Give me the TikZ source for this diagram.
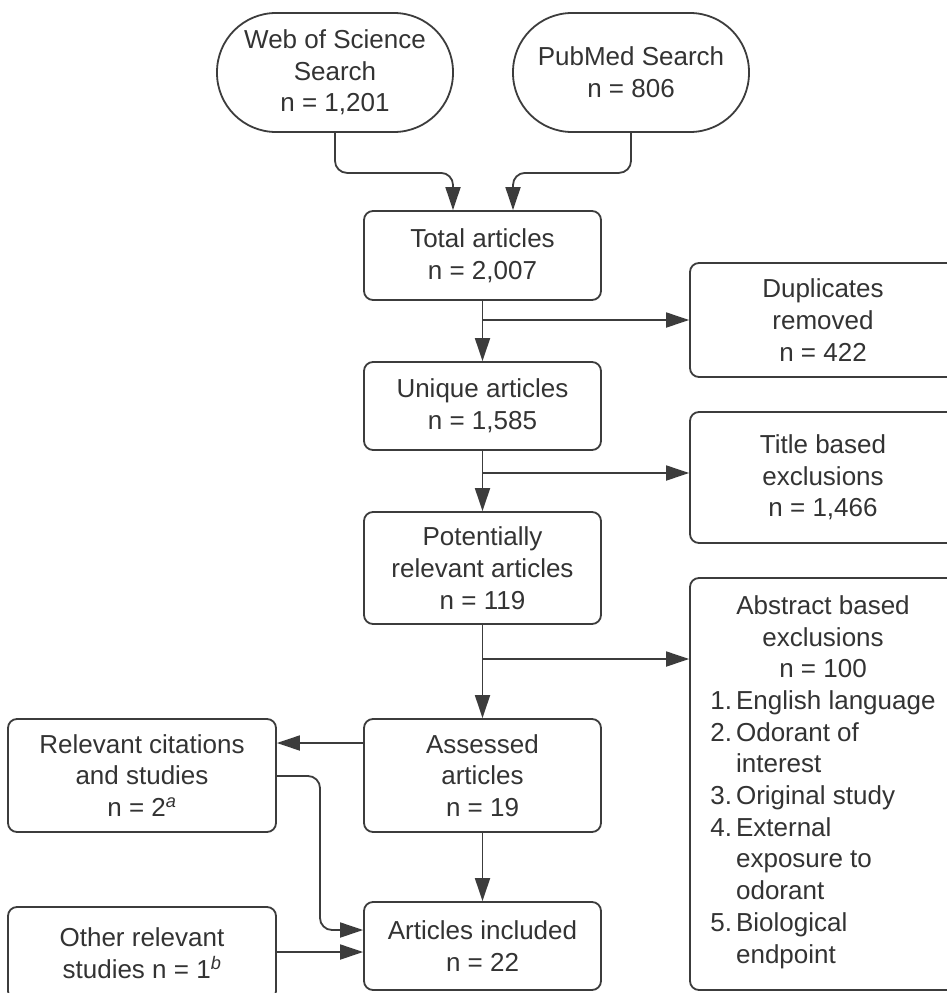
\documentclass[tikz,border=0pt]{standalone}
\usepackage{fontspec}
\setmainfont{Liberation Sans}
\usetikzlibrary{arrows.meta}
\definecolor{linec}{HTML}{3C3C3C}
\definecolor{textc}{HTML}{333333}
\tikzset{
  box/.style={draw=linec, line width=1.8pt, rounded corners=9pt, align=center,
    inner sep=0pt, text=textc, font=\fontsize{26pt}{31.7pt}\selectfont},
  stadium/.style={box, rounded corners=59pt},
  arr/.style={draw=linec, line width=1.8pt, -{Triangle[length=23pt,width=15pt]}},
  conn/.style={arr, rounded corners=12pt}
}
\begin{document}
\begin{tikzpicture}[x=1pt,y=-1pt]
\useasboundingbox (0,0) rectangle (947,993);
\fill[white] (0,0) rectangle (947,993);
\clip (0,0) rectangle (947,993);

\node[stadium, minimum width=236pt, minimum height=119pt] (wos) at (335,72.5) {Web of Science\\Search\\n = 1,201};
\node[stadium, minimum width=236pt, minimum height=119pt] (pub) at (631,72.5) {PubMed Search\\n = 806};
\node[box, minimum width=237pt, minimum height=89pt] (total) at (482.5,255.5) {Total articles\\n = 2,007};
\node[box, minimum width=266pt, minimum height=114pt] (dup) at (823,320) {Duplicates\\removed\\n = 422};
\node[box, minimum width=237pt, minimum height=88pt] (uniq) at (482.5,406) {Unique articles\\n = 1,585};
\node[box, minimum width=266pt, minimum height=131pt] (title) at (823,477.5) {Title based\\exclusions\\n = 1,466};
\node[box, minimum width=237pt, minimum height=112pt] (pot) at (482.5,568) {Potentially\\relevant articles\\n = 119};
\node[box, minimum width=266pt, minimum height=412pt] (abs) at (823,784) {Abstract based\\exclusions\\n = 100\\
\begin{tabular}[t]{@{}l@{\hspace{4pt}}l@{}}
1. & English language\\
2. & Odorant of\\
   & interest\\
3. & Original study\\
4. & External\\
   & exposure to\\
   & odorant\\
5. & Biological\\
   & endpoint
\end{tabular}};
\node[box, minimum width=237pt, minimum height=113pt] (ass) at (482.5,775.5) {Assessed\\articles\\n = 19};
\node[box, minimum width=268pt, minimum height=113pt] (rel) at (142,775.5) {Relevant citations\\and studies\\n = 2\textsuperscript{\itshape a}};
\node[box, minimum width=237pt, minimum height=88pt] (inc) at (482.5,946) {Articles included\\n = 22};
\node[box, minimum width=268pt, minimum height=93pt] (oth) at (142,953.5) {Other relevant\\studies n = 1\textsuperscript{\itshape b}};

\coordinate (b3) at (482.5,659);
\coordinate (c1) at (320,930);

\draw[conn] (wos.south) -- ++(0,40) -| ([xshift=-29.5pt]total.north);
\draw[conn] (pub.south) -- ++(0,40) -| ([xshift=30.5pt]total.north);
\draw[arr] (total.south) -- (uniq.north);
\draw[arr] (total.south |- dup.west) -- (dup.west);
\draw[arr] (uniq.south) -- (pot.north);
\draw[arr] ([yshift=4.5pt]title.west -| uniq.south) -- ([yshift=4.5pt]title.west);
\draw[arr] (pot.south) -- (ass.north);
\draw[arr] (b3) -- (b3 -| abs.west);
\draw[arr] ([yshift=32.5pt]ass.west) -- ([yshift=32.5pt]rel.east);
\draw[conn] ([yshift=-0.5pt]rel.east) -| (c1) -- (c1 -| inc.west);
\draw[arr] ([yshift=1.5pt]oth.east) -- ([yshift=1.5pt]oth.east -| inc.west);
\draw[arr] (ass.south) -- (inc.north);
\end{tikzpicture}
\end{document}
